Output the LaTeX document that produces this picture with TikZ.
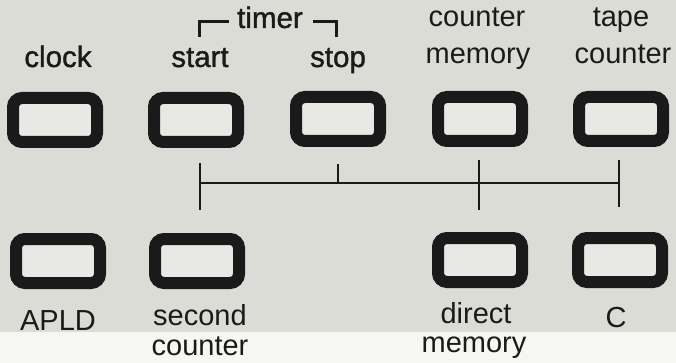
\documentclass[tikz,border=0pt]{standalone}
\usepackage{fontspec}
\setmainfont{Liberation Sans}
\newfontfamily\medfont[BoldFont={Liberation Sans},BoldFeatures={FakeBold=1.2}]{Liberation Sans}
\definecolor{paper}{HTML}{DCDCD7}
\definecolor{paperlow}{HTML}{F6F6F2}
\definecolor{keyface}{HTML}{E8E8E4}
\definecolor{ink}{HTML}{1A1A1A}
\begin{document}
\begin{tikzpicture}[x=1pt,y=-1pt,
  key/.style={draw=ink,line width=12pt,rounded corners=9pt,fill=keyface,
    minimum width=84pt,minimum height=44pt,inner sep=0pt},
  lbl/.style={anchor=base,inner sep=0pt,font=\fontsize{29}{32}\selectfont,text=ink},
  blbl/.style={lbl,font=\fontsize{29.5}{32}\selectfont\medfont\bfseries},
  wire/.style={draw=ink,line width=2.6pt},
  brk/.style={draw=ink,line width=3pt}]
\useasboundingbox (0,0) rectangle (676,363);
\fill[paper] (0,0) rectangle (676,332);
\fill[paperlow] (0,332) rectangle (676,363);
% top row keys
\node[key] (clock) at (55,120) {};
\node[key] (start) at (196,120) {};
\node[key] (stop) at (338,119) {};
\node[key] (cmem) at (480,119) {};
\node[key] (tape) at (621,119) {};
% bottom row keys
\node[key] (apld) at (58,261) {};
\node[key] (second) at (197,261) {};
\node[key] (direct) at (480,260) {};
\node[key] (ckey) at (620,260) {};
% top labels
\node[blbl] (tclock) at (58,67) {clock};
\node[blbl] (tstart) at (200,67) {start};
\node[blbl] (tstop) at (338,67) {stop};
\node[lbl] (tcm1) at (477,27) {counter};
\node[lbl] (tcm2) at (478,64) {memory};
\node[lbl] (ttp1) at (621,27) {tape};
\node[lbl] (ttp2) at (623,64) {counter};
\node[blbl] (ttimer) at (270,28) {timer};
% bottom labels
\node[lbl] (bapld) at (58,330) {APLD};
\node[lbl] (bsec1) at (200,325) {second};
\node[lbl] (bsec2) at (200,355) {counter};
\node[lbl] (bdir1) at (476,323) {direct};
\node[lbl] (bdir2) at (474,352) {memory};
\node[lbl] (bc) at (616,327) {C};
% timer bracket
\coordinate (bl1) at (199,37);
\coordinate (bl2) at (199,22);
\coordinate (bl3) at (229,22);
\coordinate (br1) at (313,22);
\coordinate (br2) at (336,22);
\coordinate (br3) at (336,37);
\draw[brk] (bl1) -- (bl2) -- (bl3);
\draw[brk] (br1) -- (br2) -- (br3);
% connection bus
\coordinate (j1) at (200,183);
\coordinate (j2) at (338,183);
\coordinate (j3) at (479,183);
\coordinate (j4) at (619,183);
\coordinate (t1a) at (200,163);
\coordinate (t1b) at (200,210);
\coordinate (t2a) at (338,164);
\coordinate (t3a) at (479,160);
\coordinate (t3b) at (479,210);
\coordinate (t4a) at (619,160);
\coordinate (t4b) at (619,207);
\draw[wire] (j1) -- (j4);
\draw[wire] (t1a) -- (t1b);
\draw[wire] (t2a) -- (j2);
\draw[wire] (t3a) -- (t3b);
\draw[wire] (t4a) -- (t4b);
\end{tikzpicture}
\end{document}
